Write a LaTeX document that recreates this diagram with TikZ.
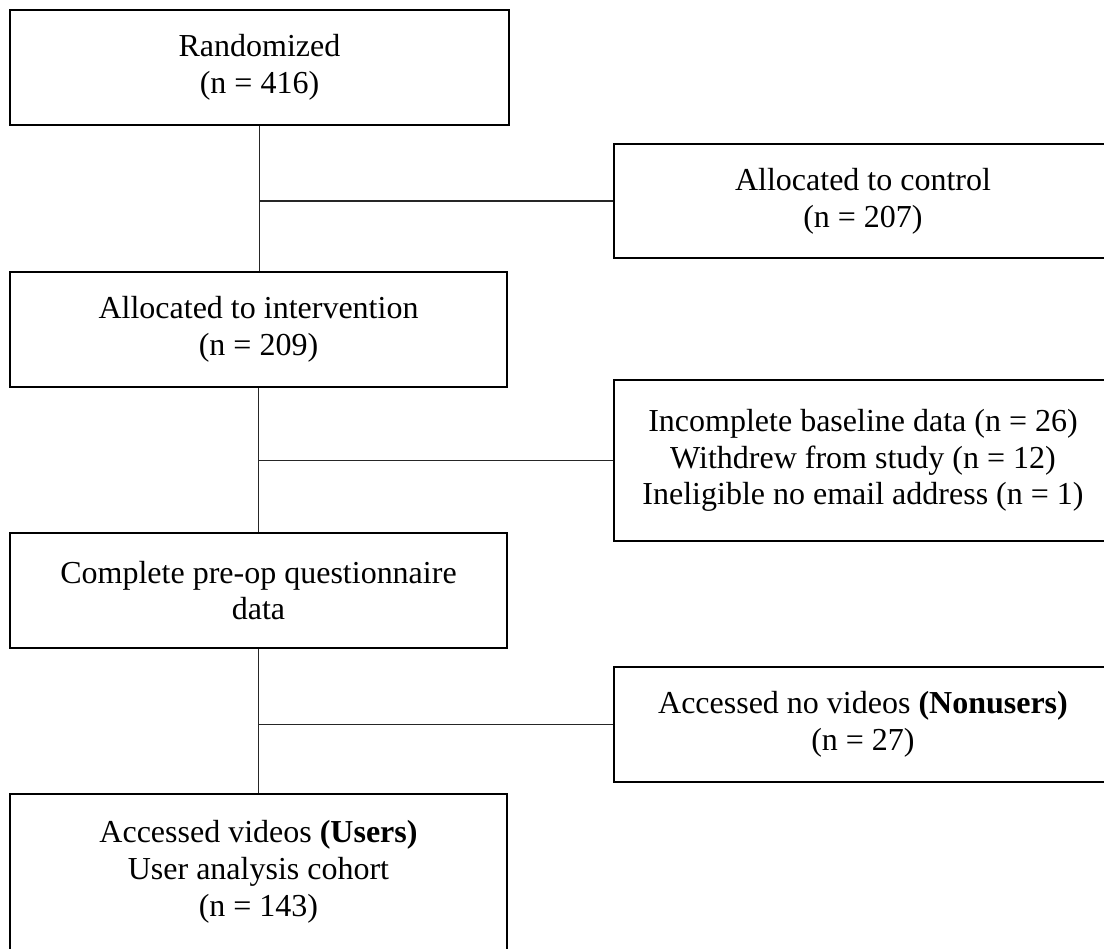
\documentclass[tikz,border=0pt]{standalone}
\usepackage{fontspec}
\setmainfont{Liberation Serif}
\begin{document}
\begin{tikzpicture}[x=0.75pt,y=-0.75pt,
  box/.style={draw=black,line width=1.5pt,fill=white,inner sep=0pt,align=center,
    font=\fontsize{24}{27.6}\selectfont},
  conn/.style={draw=black!85,line width=1pt}]
\useasboundingbox (0,0) rectangle (1104,949);
\fill[white] (0,0) rectangle (1104,949);
\clip (0,0) rectangle (1104,949);
\node[box,minimum width=374.25pt,minimum height=86.25pt] (rand) at (259.5,67.5) {Randomized\\(n = 416)};
\node[box,minimum width=373.5pt,minimum height=85.5pt] (ctrl) at (863,201) {Allocated to control\\(n = 207)};
\node[box,minimum width=372.75pt,minimum height=86.25pt] (interv) at (258.5,329.5) {Allocated to intervention\\(n = 209)};
\node[box,minimum width=373.5pt,minimum height=120.75pt] (incompl) at (863,460.5) {Incomplete baseline data (n = 26)\\Withdrew from study (n = 12)\\Ineligible no email address (n = 1)};
\node[box,minimum width=372.75pt,minimum height=86.25pt] (complete) at (258.5,590.5) {Complete pre-op questionnaire\\data};
\node[box,minimum width=373.5pt,minimum height=86.25pt] (nonusers) at (863,724.5) {Accessed no videos \textbf{(Nonusers)}\\(n = 27)};
\node[box,minimum width=372.75pt,minimum height=117pt] (users) at (258.5,872) {Accessed videos \textbf{(Users)}\\User analysis cohort\\(n = 143)};
\path[conn] (rand.south) -- (rand.south |- interv.north);
\path[conn] (rand.south |- ctrl.west) -- (ctrl.west);
\path[conn] (interv.south) -- (complete.north);
\path[conn] (interv.south |- incompl.west) -- (incompl.west);
\path[conn] (complete.south) -- (users.north);
\path[conn] (complete.south |- nonusers.west) -- (nonusers.west);
\end{tikzpicture}
\end{document}
